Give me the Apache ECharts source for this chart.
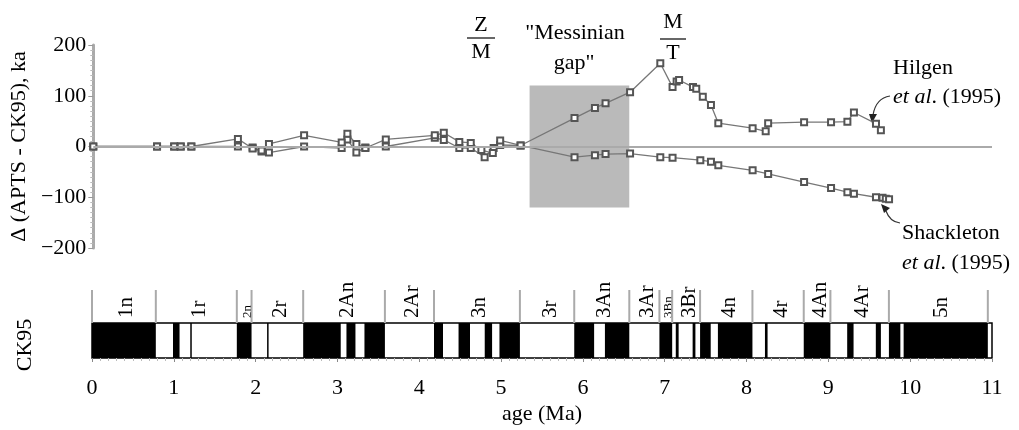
<!DOCTYPE html>
<html><head><meta charset="utf-8">
<script src="https://cdn.jsdelivr.net/npm/echarts@6/dist/echarts.min.js"></script>
<style>html,body{margin:0;padding:0;background:#fff}#c{width:1019px;height:430px}</style>
</head><body><div id="c"></div>
<script>
// ---- data ----
const hilgen = [[0,0],[0.78,0],[0.99,0],[1.07,0],[1.2,0],[1.77,15],[1.95,-4],[2.06,-8],[2.15,5],[2.58,22],[3.04,8],[3.11,25],[3.22,5],[3.33,-3],[3.58,14],[4.18,22],[4.29,27],[4.48,9],[4.62,7],[4.75,-7],[4.89,-13],[4.98,12],[5.23,2],
  [5.89,56],[6.14,76],[6.27,85],[6.57,107],[6.94,164],[7.09,117],[7.14,128],[7.17,131],[7.34,117],[7.38,114],[7.46,98],[7.56,82],[7.65,46],[8.07,36],[8.23,30],[8.26,46],[8.70,48],[9.03,48],[9.23,49],[9.31,67],[9.58,45],[9.64,32]];
const shackleton = [[0,0],[0.78,0],[0.99,0],[1.07,0],[1.2,0],[1.77,0],[1.95,-2],[2.06,-10],[2.15,-12],[2.58,0],[3.04,-3],[3.11,14],[3.22,-12],[3.33,-2],[3.58,0],[4.18,17],[4.29,13],[4.48,-3],[4.62,-3],[4.79,-21],[4.9,-3],[4.98,3],[5.23,2],
  [5.89,-21],[6.14,-17],[6.27,-15],[6.57,-14],[6.94,-21],[7.09,-22],[7.43,-27],[7.56,-30],[7.65,-37],[8.07,-47],[8.26,-54],[8.70,-70],[9.03,-82],[9.23,-90],[9.31,-93],[9.58,-100],[9.66,-101],[9.70,-103],[9.74,-104]];
const messinianGap = [5.34, 6.56, -120, 120];
const normalIntervals = [[0,0.78],[0.99,1.07],[1.201,1.211],[1.77,1.95],[2.14,2.15],[2.581,3.04],[3.11,3.22],[3.33,3.58],[4.18,4.29],[4.48,4.62],[4.80,4.89],[4.98,5.23],[5.894,6.137],[6.269,6.567],[6.935,7.091],[7.135,7.17],[7.341,7.375],[7.432,7.562],[7.65,8.072],[8.225,8.257],[8.699,9.025],[9.23,9.308],[9.58,9.642],[9.74,9.88],[9.92,10.949]];
const chronNames = ['1n','1r','2n','2r','2An','2Ar','3n','3r','3An','3Ar','3Bn','3Br','4n','4r','4An','4Ar','5n'];
const chronBounds = [0,0.78,1.77,1.95,2.581,3.58,4.18,5.23,5.894,6.567,6.935,7.091,7.432,8.072,8.699,9.025,9.74,10.949];
const yTicks = [-200,-100,0,100,200];
const ageTicks = [0,1,2,3,4,5,6,7,8,9,10,11];

const FF = 'Liberation Serif';
const chart = echarts.init(document.getElementById('c'));
const chronData = chronNames.map((n,i)=>[chronBounds[i], chronBounds[i+1]]);

const txt = (text, x, y, size) => ({type:'text', x:x, y:y, style:{text:text, fill:'#000', font:size+'px "'+FF+'"', align:'center', verticalAlign:'middle', textAlign:'center', textVerticalAlign:'middle'}});
const ltxt = (text, x, y) => ({type:'text', x:x, y:y, style:{text:text, fill:'#000', font:'22px "'+FF+'"', align:'left', verticalAlign:'middle', textAlign:'left', textVerticalAlign:'middle', rich:{i:{fontStyle:'italic', fontSize:22, fontFamily:FF}}}});

const baseGraphics = [
  txt('Z', 481, 25, 22), {type:'line', shape:{x1:467, y1:38, x2:495, y2:38}, style:{stroke:'#000', lineWidth:1.2}}, txt('M', 481, 52, 22),
  txt('"Messinian', 575, 33, 22), txt('gap"', 574, 63, 22),
  txt('M', 673, 22, 22), {type:'line', shape:{x1:660, y1:39, x2:686, y2:39}, style:{stroke:'#000', lineWidth:1.2}}, txt('T', 673, 53, 22),
  ltxt('Hilgen', 893, 68),
  ltxt('{i|et al}. (1995)', 893, 97),
  ltxt('Shackleton', 902, 233),
  ltxt('{i|et al}. (1995)', 902, 263),
  {type:'bezierCurve', shape:{x1:890, y1:96, cpx1:876, cpy1:98, x2:873, y2:115}, style:{stroke:'#333', lineWidth:1.2, fill:null}},
  {type:'polygon', shape:{points:[[869,114],[877,114],[872,123]]}, style:{fill:'#222'}},
  {type:'bezierCurve', shape:{x1:900, y1:223, cpx1:890, cpy1:222, x2:886, y2:211}, style:{stroke:'#333', lineWidth:1.2, fill:null}},
  {type:'polygon', shape:{points:[[881,204],[890,208],[884,213]]}, style:{fill:'#222'}},
  {type:'text', x:25, y:345, rotation:Math.PI/2, style:{text:'CK95', fill:'#000', font:'22px "'+FF+'"', align:'center', verticalAlign:'middle', textAlign:'center', textVerticalAlign:'middle'}}
];

chart.setOption({
  animation:false,
  textStyle:{fontFamily:FF},
  grid:[
    {left:92, right:27, top:45, height:203},
    {left:92, right:27, top:323, height:35, show:true, borderColor:'#000', borderWidth:1.5, backgroundColor:'#fff'},
    {left:92, right:27, top:280, height:43}
  ],
  xAxis:[
    {gridIndex:0, type:'value', min:0, max:11, interval:1, show:false},
    {gridIndex:1, type:'value', min:0, max:11, interval:1, offset:8,
      axisLine:{show:false}, splitLine:{show:false},
      axisTick:{show:true, length:4, lineStyle:{color:'#888', width:1}},
      minorTick:{show:true, splitNumber:10, length:3, lineStyle:{color:'#bbb', width:1}},
      axisLabel:{fontSize:22, fontFamily:FF, color:'#000', margin:11, formatter: v => ageTicks.includes(v) ? String(v) : ''},
      name:'age (Ma)', nameLocation:'middle', nameGap:37, nameTextStyle:{fontSize:22, fontFamily:FF, color:'#000'}},
    {gridIndex:2, type:'value', min:0, max:11, show:false}
  ],
  yAxis:[
    {gridIndex:0, type:'value', min:-200, max:200, interval:100,
      axisLine:{show:true, lineStyle:{color:'#aaa', width:3}},
      axisTick:{show:true, length:5, lineStyle:{color:'#999'}},
      minorTick:{show:true, splitNumber:10, length:3, lineStyle:{color:'#bbb'}},
      splitLine:{show:false},
      axisLabel:{fontSize:22, fontFamily:FF, color:'#000', margin:7, formatter: v => yTicks.includes(v) ? (v<0 ? '\u2212'+(-v) : String(v)) : ''},
      name:'\u0394 (APTS - CK95), ka', nameLocation:'middle', nameGap:50, nameRotate:90,
      nameTextStyle:{fontSize:22, fontFamily:FF, color:'#000'}},
    {gridIndex:1, type:'value', min:0, max:1, show:false},
    {gridIndex:2, type:'value', min:0, max:1, show:false}
  ],
  series:[
    {type:'line', xAxisIndex:0, yAxisIndex:0, data:[], z:1,
      markArea:{silent:true, itemStyle:{color:'#bababa', opacity:1},
        data:[[{xAxis:messinianGap[0], yAxis:messinianGap[3]},{xAxis:messinianGap[1], yAxis:messinianGap[2]}]]},
      markLine:{silent:true, symbol:'none', label:{show:false}, lineStyle:{color:'#aaa', width:2, type:'solid'}, data:[{yAxis:0}]}},
    {name:'Shackleton', type:'line', xAxisIndex:0, yAxisIndex:0, data:shackleton, z:3,
      symbol:'emptyRect', symbolSize:6, lineStyle:{color:'#777', width:1.3},
      itemStyle:{color:'#555', borderColor:'#555', borderWidth:1}},
    {name:'Hilgen', type:'line', xAxisIndex:0, yAxisIndex:0, data:hilgen, z:3,
      symbol:'emptyRect', symbolSize:6, lineStyle:{color:'#777', width:1.3},
      itemStyle:{color:'#555', borderColor:'#555', borderWidth:1}},
    {type:'custom', xAxisIndex:1, yAxisIndex:1, data:normalIntervals,
      renderItem:(params, api) => {
        const s = api.coord([api.value(0), 1]);
        const e = api.coord([api.value(1), 0]);
        return {type:'rect', shape:{x:s[0], y:s[1], width:Math.max(e[0]-s[0],1.5), height:e[1]-s[1]}, style:{fill:'#000'}};
      }},
    {type:'custom', xAxisIndex:2, yAxisIndex:2, data:chronData,
      renderItem:(params, api) => {
        const ps = api.coord([api.value(0), 0]);
        const pe = api.coord([api.value(1), 0]);
        const children = [
          {type:'line', shape:{x1:ps[0], y1:ps[1]-33, x2:ps[0], y2:ps[1]}, style:{stroke:'#aaa', lineWidth:2}}
        ];
        if (params.dataIndex === chronNames.length-1) {
          children.push({type:'line', shape:{x1:pe[0], y1:pe[1]-33, x2:pe[0], y2:pe[1]}, style:{stroke:'#aaa', lineWidth:2}});
        }
        return {type:'group', children:children};
      }}
  ],
  graphic: baseGraphics
});

// chron labels, placed through the library's own x scale, rotated
const chronTexts = chronNames.map((n,i) => {
  const mid = (chronBounds[i] + chronBounds[i+1]) / 2;
  const p = chart.convertToPixel({xAxisIndex:2, yAxisIndex:2}, [mid, 0]);
  const small = (n === '2n' || n === '3Bn');
  return {type:'text', x:p[0] + 3, y:p[1] - 5, rotation:Math.PI/2,
    style:{text:n, fill:'#000', font:(small ? '13px "' : '21px "') + FF + '"', align:'left', verticalAlign:'middle', textAlign:'left', textVerticalAlign:'middle'}};
});
chart.setOption({graphic: baseGraphics.concat(chronTexts)});
</script></body></html>
